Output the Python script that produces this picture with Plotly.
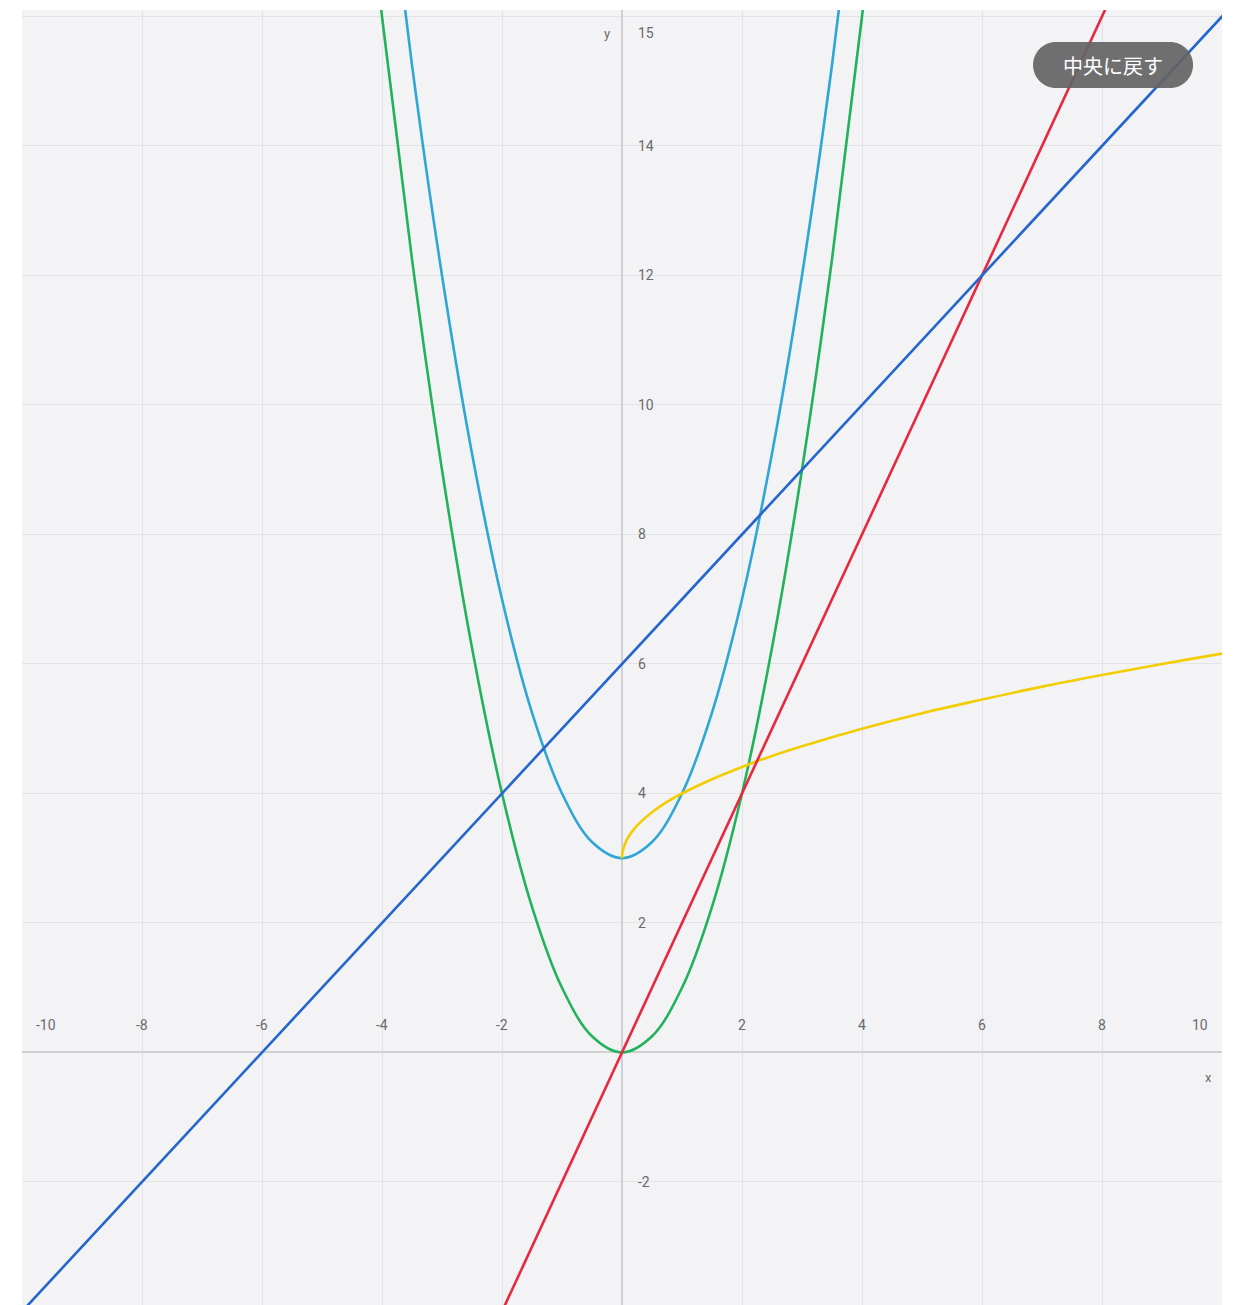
import plotly.graph_objects as go

# ---- data ----
line_blue_x = [-10.5, 10.5]
line_blue_y = [-4.5, 16.5]

line_red_x = [-2.5, 8.5]
line_red_y = [-5.0, 17.0]

para_x = [-4.5, -4.0, -3.5, -3.0, -2.5, -2.0, -1.5, -1.0, -0.5, 0.0,
          0.5, 1.0, 1.5, 2.0, 2.5, 3.0, 3.5, 4.0, 4.5]
green_y = [20.25, 16.0, 12.25, 9.0, 6.25, 4.0, 2.25, 1.0, 0.25, 0.0,
           0.25, 1.0, 2.25, 4.0, 6.25, 9.0, 12.25, 16.0, 20.25]
cyan_y = [23.25, 19.0, 15.25, 12.0, 9.25, 7.0, 5.25, 4.0, 3.25, 3.0,
          3.25, 4.0, 5.25, 7.0, 9.25, 12.0, 15.25, 19.0, 23.25]

yellow_x = [0, 0.005, 0.02, 0.05, 0.1, 0.2, 0.3, 0.5, 0.75, 1, 1.5, 2,
            2.5, 3, 4, 5, 6, 7, 8, 9, 10, 10.5]
yellow_y = [3.0, 3.07, 3.14, 3.22, 3.32, 3.45, 3.55, 3.71, 3.87, 4.0, 4.22,
            4.41, 4.58, 4.73, 5.0, 5.24, 5.45, 5.65, 5.83, 6.0, 6.16, 6.24]

x_tick_vals = [-10, -8, -6, -4, -2, 2, 4, 6, 8, 10]
x_tick_text = ["-10", "-8", "-6", "-4", "-2", "2", "4", "6", "8", "10"]
y_tick_vals = [-2, 2, 4, 6, 8, 10, 12, 14, 16]
y_tick_text = ["-2", "2", "4", "6", "8", "10", "12", "14", "15"]

button_text = "中央に戻す"

# ---- styles ----
C_BLUE = "#2466cc"
C_RED = "#e8283e"
C_GREEN = "#23b25c"
C_CYAN = "#2ea6d6"
C_YELLOW = "#f2cd00"
LW = 2.6

fig = go.Figure()
fig.add_trace(go.Scatter(x=para_x, y=green_y, mode="lines",
                         line=dict(color=C_GREEN, width=LW, shape="spline"), hoverinfo="skip"))
fig.add_trace(go.Scatter(x=para_x, y=cyan_y, mode="lines",
                         line=dict(color=C_CYAN, width=LW, shape="spline"), hoverinfo="skip"))
fig.add_trace(go.Scatter(x=yellow_x, y=yellow_y, mode="lines",
                         line=dict(color=C_YELLOW, width=LW, shape="spline"), hoverinfo="skip"))
fig.add_trace(go.Scatter(x=line_red_x, y=line_red_y, mode="lines",
                         line=dict(color=C_RED, width=LW), hoverinfo="skip"))
fig.add_trace(go.Scatter(x=line_blue_x, y=line_blue_y, mode="lines",
                         line=dict(color=C_BLUE, width=LW), hoverinfo="skip"))

tick_font = dict(family="Roboto, DejaVu Sans, sans-serif", size=14, color="#6a6a6a")
annotations = []
n = len(x_tick_vals)
for i, (v, t) in enumerate(zip(x_tick_vals, x_tick_text)):
    anchor = "center"
    xs = 0
    if i == 0:
        anchor, xs = "left", 12
    elif i == n - 1:
        anchor, xs = "right", -12
    annotations.append(dict(x=v, y=0, xref="x", yref="y", text=t, showarrow=False,
                            xanchor=anchor, yanchor="middle", yshift=27, xshift=xs,
                            font=tick_font))
m = len(y_tick_vals)
for i, (v, t) in enumerate(zip(y_tick_vals, y_tick_text)):
    ys = -17 if i == m - 1 else 0
    annotations.append(dict(x=0, y=v, xref="x", yref="y", text=t, showarrow=False,
                            xanchor="left", yanchor="middle", xshift=14, yshift=ys,
                            font=tick_font))
annotations.append(dict(x=0, y=16, xref="x", yref="y", text="y", showarrow=False,
                        xanchor="right", yanchor="middle", xshift=-10, yshift=-17,
                        font=dict(family="Roboto, sans-serif", size=13, color="#6a6a6a")))
annotations.append(dict(x=10, y=0, xref="x", yref="y", text="x", showarrow=False,
                        xanchor="right", yanchor="middle", xshift=-8, yshift=-25,
                        font=dict(family="Roboto, sans-serif", size=13, color="#6a6a6a")))
annotations.append(dict(x=0.9092, y=0.9575, xref="paper", yref="paper", text=button_text,
                        showarrow=False, xanchor="center", yanchor="middle",
                        font=dict(family="Noto Sans CJK JP, sans-serif", size=20, color="#ffffff")))

k = 12.7
btn_path = ("M -57,-23 L 57,-23 "
            f"C {57 + k},-23 80,{-k} 80,0 "
            f"C 80,{k} {57 + k},23 57,23 "
            "L -57,23 "
            f"C {-57 - k},23 -80,{k} -80,0 "
            f"C -80,{-k} {-57 - k},-23 -57,-23 Z")

fig.update_layout(
    width=1235, height=1305,
    margin=dict(l=14, r=21, t=2, b=8),
    paper_bgcolor="#ffffff",
    plot_bgcolor="#f3f3f6",
    showlegend=False,
    xaxis=dict(range=[-10, 10], dtick=2, tick0=0, showgrid=True, gridcolor="#e2e2e7",
               gridwidth=1, zeroline=True, zerolinecolor="#cfcfd4", zerolinewidth=1.5,
               showticklabels=False, ticks="", fixedrange=True),
    yaxis=dict(range=[-3.9, 16.1], dtick=2, tick0=0, showgrid=True, gridcolor="#e2e2e7",
               gridwidth=1, zeroline=True, zerolinecolor="#cfcfd4", zerolinewidth=1.5,
               showticklabels=False, ticks="", fixedrange=True),
    annotations=annotations,
    shapes=[dict(type="path", xref="paper", yref="paper", xsizemode="pixel",
                 ysizemode="pixel", xanchor=0.9092, yanchor=0.9575, path=btn_path,
                 fillcolor="rgba(100,100,100,0.92)", line=dict(width=0), layer="above")],
)

fig.write_html("out.html", config={"displayModeBar": False})
